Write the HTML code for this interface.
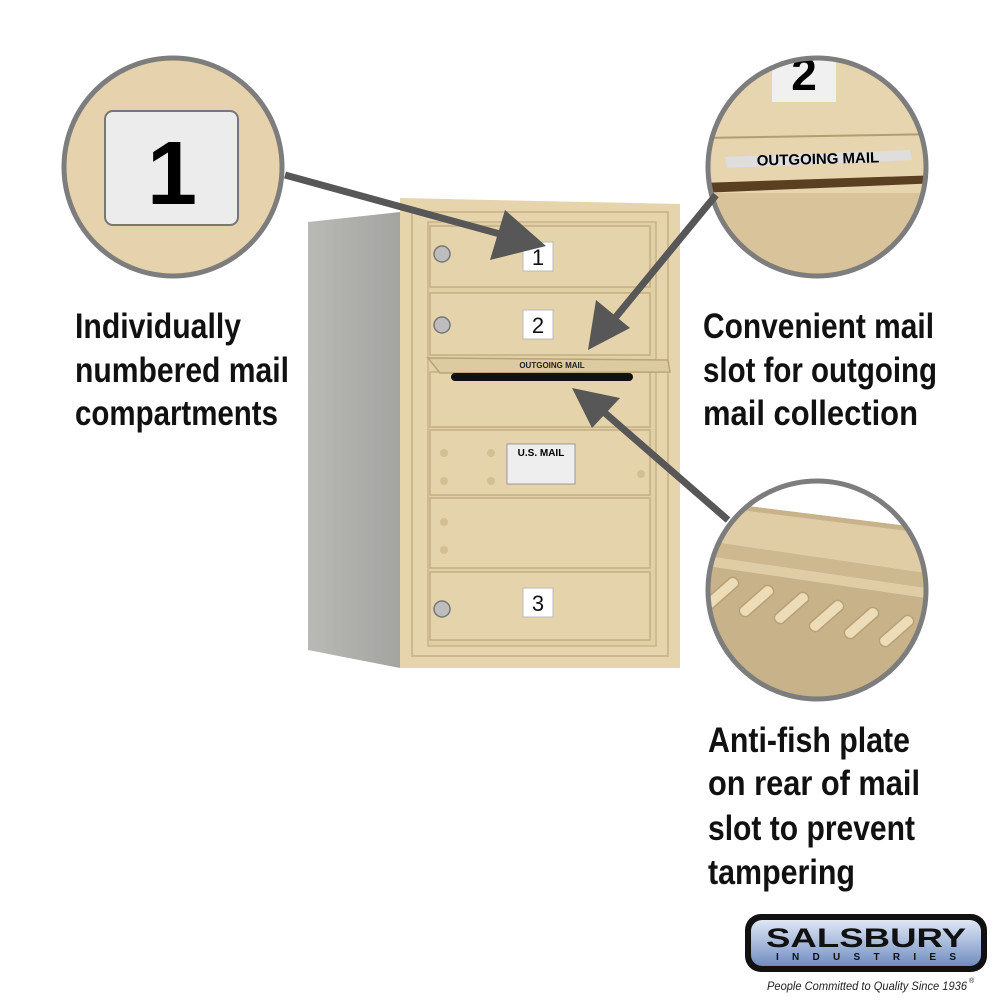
<!DOCTYPE html>
<html><head><meta charset="utf-8"><style>html,body{margin:0;padding:0;background:#fff}svg{display:block}</style></head><body>
<svg width="1000" height="1000" viewBox="0 0 1000 1000" xmlns="http://www.w3.org/2000/svg">
<defs>
<linearGradient id="side" x1="0" x2="1"><stop offset="0" stop-color="#b9b9b6"/><stop offset="1" stop-color="#a3a3a0"/></linearGradient>
<linearGradient id="logo" x1="0" y1="0" x2="0" y2="1"><stop offset="0" stop-color="#dfe7f4"/><stop offset="0.5" stop-color="#a9bbdc"/><stop offset="1" stop-color="#6f8cc0"/></linearGradient>
<clipPath id="c3"><circle cx="817" cy="590" r="109"/></clipPath>
<clipPath id="c2"><circle cx="817" cy="167" r="109"/></clipPath>
</defs>
<!-- mailbox side -->
<polygon points="308,222 400,212 400,668 308,650" fill="url(#side)"/>
<!-- front frame -->
<polygon points="400,198 680,204 680,668 400,668" fill="#e6d4ad"/>
<rect x="412" y="212" width="256" height="444" fill="none" stroke="#cdb88f" stroke-width="2"/>
<rect x="428" y="222" width="228" height="424" fill="#e1cfa6" stroke="#c9b48b" stroke-width="1.5"/>
<g fill="#e4d3ab" stroke="#c4ae84" stroke-width="1.5">
<rect x="430" y="226" width="220" height="61"/>
<rect x="430" y="293" width="220" height="62"/>
<rect x="430" y="372" width="220" height="55"/>
<rect x="430" y="430" width="220" height="65"/>
<rect x="430" y="498" width="220" height="70"/>
<rect x="430" y="572" width="220" height="68"/>
</g>
<polygon points="428,358 668,360 670,372 440,373" fill="#dccaa0" stroke="#b9a37a" stroke-width="1.5"/>
<rect x="451" y="373" width="182" height="8" rx="4" fill="#111"/>
<text x="552" y="368" font-family="Liberation Sans,sans-serif" font-size="8" font-weight="bold" text-anchor="middle" fill="#222">OUTGOING MAIL</text>
<g fill="#fff" stroke="#bbb"><rect x="523" y="242" width="30" height="29"/><rect x="523" y="310" width="30" height="29"/><rect x="523" y="588" width="30" height="29"/></g>
<g font-family="Liberation Sans,sans-serif" font-size="22" text-anchor="middle" fill="#111"><text x="538" y="265">1</text><text x="538" y="333">2</text><text x="538" y="611">3</text></g>
<g fill="#bdbdbd" stroke="#777" stroke-width="1.5"><circle cx="442" cy="254" r="8"/><circle cx="442" cy="325" r="8"/><circle cx="442" cy="609" r="8"/></g>
<rect x="507" y="444" width="68" height="40" fill="#eee" stroke="#999"/>
<text x="541" y="456" font-family="Liberation Sans,sans-serif" font-size="10" font-weight="bold" text-anchor="middle">U.S. MAIL</text>
<g fill="#d4bf93"><circle cx="444" cy="453" r="4"/><circle cx="444" cy="481" r="4"/><circle cx="491" cy="453" r="4"/><circle cx="491" cy="481" r="4"/><circle cx="641" cy="474" r="4"/><circle cx="444" cy="522" r="4"/><circle cx="444" cy="550" r="4"/></g>
<!-- circle 1 -->
<circle cx="173" cy="167" r="109" fill="#e6d3ad" stroke="#7d7d7d" stroke-width="5"/>
<rect x="105" y="111" width="133" height="114" rx="8" fill="#ececec" stroke="#777" stroke-width="2"/>
<text x="172" y="204" font-family="Liberation Sans,sans-serif" font-size="90" font-weight="bold" text-anchor="middle">1</text>
<!-- circle 2 -->
<g clip-path="url(#c2)">
<rect x="700" y="50" width="240" height="240" fill="#e7d5af"/>
<rect x="772" y="55" width="64" height="47" fill="#f0f0f0"/>
<text x="804" y="90" font-family="Liberation Sans,sans-serif" font-size="46" font-weight="bold" text-anchor="middle">2</text>
<line x1="700" y1="138" x2="940" y2="134" stroke="#b39d72" stroke-width="2"/>
<polygon points="725,157 910,150 912,160 727,168" fill="#dedede"/>
<text x="818" y="164" font-family="Liberation Sans,sans-serif" font-size="15" font-weight="bold" text-anchor="middle" transform="rotate(-1.5 818 160)">OUTGOING MAIL</text>
<polygon points="700,183 940,175 940,183 700,193" fill="#5a4020"/>
<rect x="700" y="193" width="240" height="100" fill="#d8c39b"/>
</g>
<circle cx="817" cy="167" r="109" fill="none" stroke="#7d7d7d" stroke-width="5"/>
<!-- circle 3 -->
<g clip-path="url(#c3)">
<rect x="700" y="475" width="240" height="230" fill="#c8b28a"/>
<polygon points="700,475 940,475 940,530 700,500" fill="#fff"/>
<polygon points="700,505 940,535 940,600 700,565" fill="#e0cda6"/>
<polygon points="700,540 940,575 940,590 700,555" fill="#cdb890"/>
<g fill="#ecdcb8" stroke="#b8a077" stroke-width="1.5">
<path d="M705,600 l25,-22 a6,6 0 0 1 8,8 l-25,22 a6,6 0 0 1 -8,-8z"/>
<path d="M740,608 l25,-22 a6,6 0 0 1 8,8 l-25,22 a6,6 0 0 1 -8,-8z"/>
<path d="M775,615 l25,-22 a6,6 0 0 1 8,8 l-25,22 a6,6 0 0 1 -8,-8z"/>
<path d="M810,623 l25,-22 a6,6 0 0 1 8,8 l-25,22 a6,6 0 0 1 -8,-8z"/>
<path d="M845,630 l25,-22 a6,6 0 0 1 8,8 l-25,22 a6,6 0 0 1 -8,-8z"/>
<path d="M880,638 l25,-22 a6,6 0 0 1 8,8 l-25,22 a6,6 0 0 1 -8,-8z"/>
</g>
</g>
<circle cx="817" cy="590" r="109" fill="none" stroke="#7d7d7d" stroke-width="5"/>
<!-- arrows -->
<g stroke="#575757" stroke-width="7" fill="#575757">
<line x1="285" y1="175" x2="500" y2="234"/>
<line x1="716" y1="195" x2="615" y2="318"/>
<line x1="728" y1="520" x2="605" y2="413"/>
</g>
<g fill="#575757">
<polygon points="546,246 490,260 505,210"/>
<polygon points="588,350 596,300 630,328"/>
<polygon points="572,388 620,398 592,428"/>
</g>
<!-- text -->
<g font-family="Liberation Sans Narrow,Liberation Sans,sans-serif" font-size="35" font-weight="bold" fill="#111" lengthAdjust="spacingAndGlyphs">
<text x="75" y="338" textLength="166" lengthAdjust="spacingAndGlyphs">Individually</text>
<text x="75" y="382" textLength="214" lengthAdjust="spacingAndGlyphs">numbered mail</text>
<text x="75" y="425" textLength="203" lengthAdjust="spacingAndGlyphs">compartments</text>
<text x="703" y="338" textLength="231" lengthAdjust="spacingAndGlyphs">Convenient mail</text>
<text x="703" y="382" textLength="234" lengthAdjust="spacingAndGlyphs">slot for outgoing</text>
<text x="703" y="425" textLength="215" lengthAdjust="spacingAndGlyphs">mail collection</text>
<text x="708" y="752" textLength="202" lengthAdjust="spacingAndGlyphs">Anti-fish plate</text>
<text x="708" y="795" textLength="212" lengthAdjust="spacingAndGlyphs">on rear of mail</text>
<text x="708" y="840" textLength="207" lengthAdjust="spacingAndGlyphs">slot to prevent</text>
<text x="708" y="884" textLength="147" lengthAdjust="spacingAndGlyphs">tampering</text>
</g>
<!-- logo -->
<rect x="745" y="914" width="242" height="58" rx="16" fill="#111"/>
<rect x="751" y="920" width="230" height="46" rx="11" fill="url(#logo)"/>
<text x="866" y="947" font-family="Liberation Sans,sans-serif" font-size="27" font-weight="bold" text-anchor="middle" fill="#111" textLength="200" lengthAdjust="spacingAndGlyphs">SALSBURY</text>
<text x="866" y="960" font-family="Liberation Sans,sans-serif" font-size="10" font-weight="bold" text-anchor="middle" fill="#111" textLength="180" lengthAdjust="spacing">INDUSTRIES</text>
<text x="767" y="990" font-family="Liberation Sans Narrow,Liberation Sans,sans-serif" font-size="12" font-style="italic" fill="#222" textLength="200" lengthAdjust="spacingAndGlyphs">People Committed to Quality Since 1936</text>
<text x="969" y="983" font-family="Liberation Sans,sans-serif" font-size="7" fill="#222">®</text>
</svg>
</body></html>
